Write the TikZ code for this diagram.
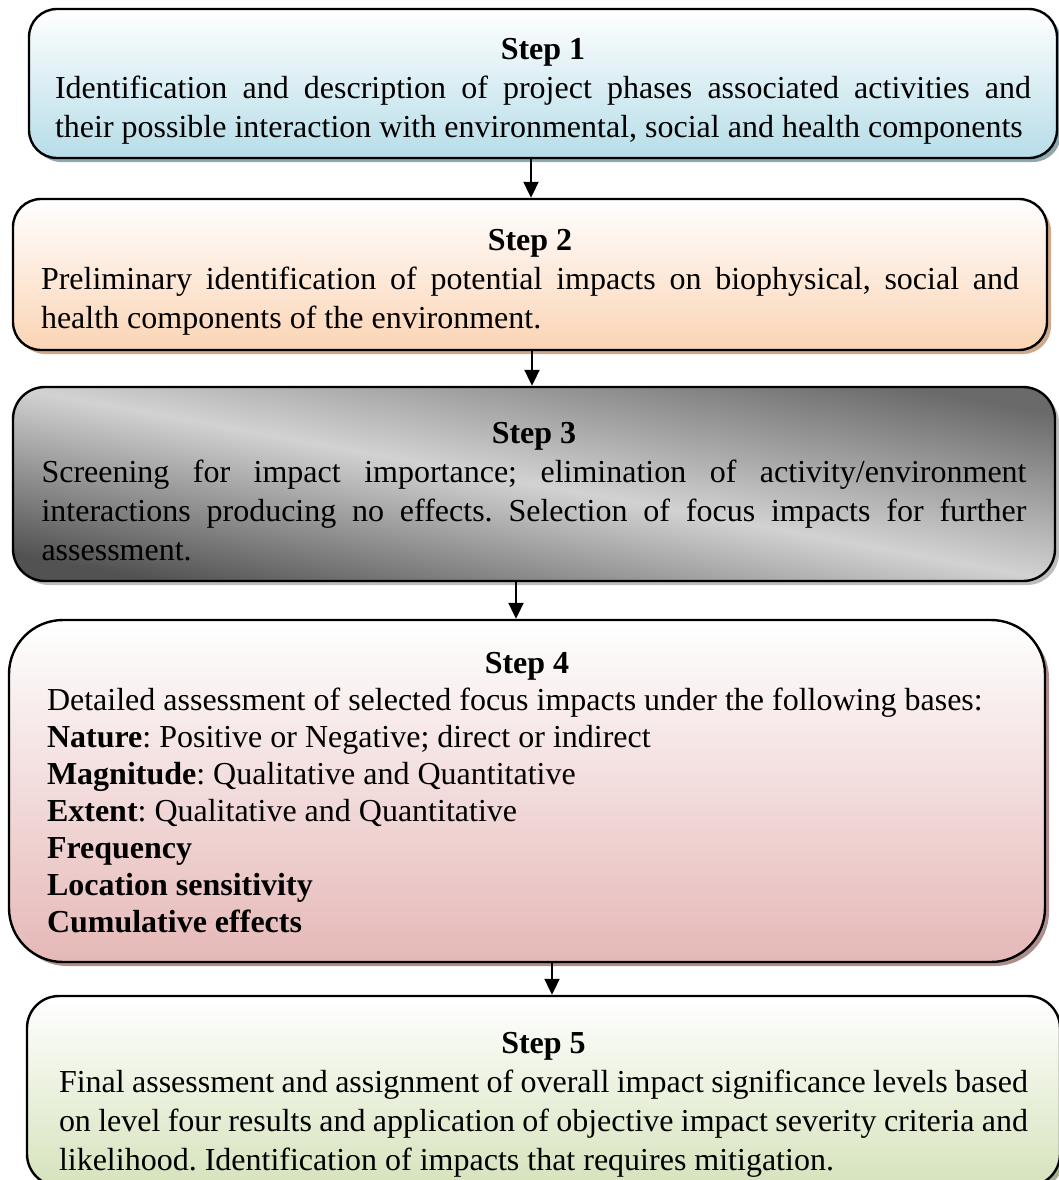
\documentclass[tikz,border=0pt]{standalone}
\usepackage{fontspec}
\setmainfont{Liberation Serif}
\usepackage{xcolor}
\usepackage{tikz}
\usetikzlibrary{arrows.meta,shadows}
\definecolor{ice}{HTML}{B6DDE8}
\definecolor{iceshd}{HTML}{8FA8B0}
\definecolor{peach}{HTML}{FBD4B4}
\definecolor{peachshd}{HTML}{CFA98C}
\definecolor{ashtop}{HTML}{6A6A6A}
\definecolor{ashbot}{HTML}{525252}
\definecolor{ashlight}{HTML}{D2D2D2}
\definecolor{ashshd}{HTML}{BDBDBD}
\definecolor{rose}{HTML}{E5B8B7}
\definecolor{roseshd}{HTML}{B08D8D}
\definecolor{sage}{HTML}{D6E3BC}
\definecolor{sageshd}{HTML}{A5B08F}
\hyphenpenalty=10000
\exhyphenpenalty=10000
\tolerance=10000
\frenchspacing
% step heading; the optional value raises the heading line to push the text down
\newcommand{\sthd}[2][0pt]{{\centering\bfseries\rule{0pt}{\dimexpr 11pt+#1\relax}#2\par}}
\tikzset{
  stepbox/.style={rectangle, draw=black, line width=1.2pt, align=justify, inner ysep=0pt,
                  font=\fontsize{16pt}{19.5pt}\selectfont},
  icebox/.style={stepbox, top color=white, bottom color=ice,
                 drop shadow={shadow xshift=2pt, shadow yshift=-2pt, fill=iceshd, opacity=1}},
  peachbox/.style={stepbox, top color=white, bottom color=peach,
                 drop shadow={shadow xshift=2pt, shadow yshift=-2pt, fill=peachshd, opacity=1}},
  ashbox/.style={stepbox, top color=ashtop, bottom color=ashbot, middle color=ashlight, shading angle=-10.5,
                 drop shadow={shadow xshift=2pt, shadow yshift=-2pt, fill=ashshd, opacity=1}},
  rosebox/.style={stepbox, top color=white, bottom color=rose,
                 drop shadow={shadow xshift=2pt, shadow yshift=-2pt, fill=roseshd, opacity=1}},
  sagebox/.style={stepbox, top color=white, bottom color=sage,
                 drop shadow={shadow xshift=2pt, shadow yshift=-2pt, fill=sageshd, opacity=1}},
  flow/.style={-{Triangle[length=8pt, width=7.5pt]}, draw=black, line width=1pt},
}

\begin{document}
\begin{tikzpicture}[x=0.5pt, y=-0.5pt]
\useasboundingbox (0,0) rectangle (1059,1180);

\node[icebox, text width=488pt, inner xsep=13pt, minimum height=74.5pt, rounded corners=14pt] (s1) at (543,83.5)
 {\sthd[7pt]{Step 1}
  Identification and description of project phases associated activities and\linebreak
  their possible interaction with environmental, social and health components};

\node[peachbox, text width=489pt, inner xsep=14pt, minimum height=75.5pt, rounded corners=14pt] (s2) at (530,274.5)
 {\sthd[7pt]{Step 2}
  Preliminary identification of potential impacts on biophysical, social and\linebreak
  health components of the environment.};

\node[ashbox, text width=492.5pt, inner xsep=14.25pt, minimum height=97pt, rounded corners=16pt] (s3) at (534,484)
 {\sthd[7pt]{Step 3}
  Screening for impact importance; elimination of activity/environment\linebreak
  interactions producing no effects. Selection of focus impacts for further\linebreak
  assessment.};

\node[rosebox, text width=480pt, inner xsep=19pt, minimum height=171pt, rounded corners=27pt,
      font=\fontsize{16pt}{18.5pt}\selectfont] (s4) at (527,791)
 {\sthd[1.5pt]{Step 4}
  Detailed assessment of selected focus impacts under the following bases:\newline
  \textbf{Nature}: Positive or Negative; direct or indirect\newline
  \textbf{Magnitude}: Qualitative and Quantitative\newline
  \textbf{Extent}: Qualitative and Quantitative\newline
  \textbf{Frequency}\newline
  \textbf{Location sensitivity}\newline
  \textbf{Cumulative effects}};

\node[sagebox, text width=484.5pt, inner xsep=16pt, minimum height=95pt, rounded corners=16pt] (s5) at (543.5,1091)
 {\sthd[13pt]{Step 5}
  Final assessment and assignment of overall impact significance levels based\linebreak
  on level four results and application of objective impact severity criteria and\linebreak
  likelihood. Identification of impacts that requires mitigation.};

\coordinate (a1) at ([xshift=-6pt]s1.south);
\coordinate (a2) at ([xshift=1pt]s2.south);
\coordinate (a3) at ([xshift=-9pt]s3.south);
\coordinate (a4) at ([xshift=12.5pt]s4.south);
\draw[flow] (a1) -- (a1 |- s2.north);
\draw[flow] (a2) -- (a2 |- s3.north);
\draw[flow] (a3) -- (a3 |- s4.north);
\draw[flow] (a4) -- (a4 |- s5.north);
\end{tikzpicture}
\end{document}
